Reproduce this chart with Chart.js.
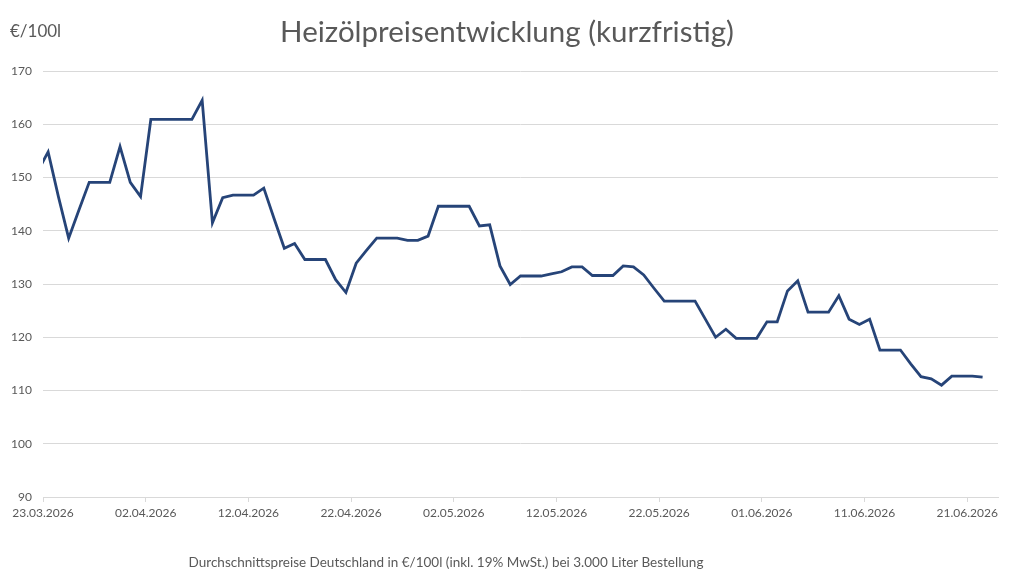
<!DOCTYPE html>
<html>
<head>
<meta charset="utf-8">
<script src="https://cdn.jsdelivr.net/npm/chart.js@4"></script>
<style>
  body { margin: 0; background: #fff; }
  #wrap { position: relative; width: 1012px; height: 580px; font-family: Lato, "Open Sans", sans-serif; color: #595959; }
  #wrap canvas { position: absolute; left: 0; top: 0; }
  .txt { position: absolute; white-space: nowrap; line-height: 1.2; }
  #title { left: 0; width: 1014px; top: 13px; text-align: center; font-size: 29.5px; }
  #unit { left: 10px; top: 21px; font-size: 17px; }
  #foot { left: 0; width: 892px; top: 554px; text-align: center; font-size: 13.5px; }
</style>
</head>
<body>
<div id="wrap">
  <canvas id="chart" width="1012" height="580"></canvas>
  <div class="txt" id="title">Heizölpreisentwicklung (kurzfristig)</div>
  <div class="txt" id="unit">€/100l</div>
  <div class="txt" id="foot">Durchschnittspreise Deutschland in €/100l (inkl. 19% MwSt.) bei 3.000 Liter Bestellung</div>
</div>
<script>
// daily prices, one per day starting at firstDay
const firstDay = '2026-03-22';
const axisStart = '2026-03-23';
const axisDays = 93;
const prices = [
  151.2, 154.8, 146.4, 138.6, 143.9, 149.1, 149.1, 149.1, 155.8, 149.1,
  146.4, 160.9, 160.9, 160.9, 160.9, 160.9, 164.5, 141.5, 146.2, 146.7,
  146.7, 146.7, 148.0, 142.3, 136.7, 137.6, 134.6, 134.6, 134.6, 130.8,
  128.4, 133.9, 136.3, 138.6, 138.6, 138.6, 138.2, 138.2, 139.0, 144.6,
  144.6, 144.6, 144.6, 140.9, 141.1, 133.4, 129.9, 131.5, 131.5, 131.5,
  131.9, 132.3, 133.2, 133.2, 131.6, 131.6, 131.6, 133.4, 133.2, 131.7,
  129.2, 126.8, 126.8, 126.8, 126.8, 123.4, 120.0, 121.5, 119.8, 119.8,
  119.8, 122.9, 122.9, 128.7, 130.6, 124.7, 124.7, 124.7, 127.8, 123.4,
  122.4, 123.4, 117.6, 117.6, 117.6, 115.0, 112.6, 112.2, 111.0, 112.7,
  112.7, 112.7, 112.5
];
const yTicks = [90, 100, 110, 120, 130, 140, 150, 160, 170];

const DAY = 86400000;
const t0 = Date.parse(firstDay);
const a0 = Date.parse(axisStart);

function fmt(ms) {
  const d = new Date(ms);
  const dd = String(d.getUTCDate()).padStart(2, '0');
  const mm = String(d.getUTCMonth() + 1).padStart(2, '0');
  return dd + '.' + mm + '.' + d.getUTCFullYear();
}

// each daily value sits in the middle of its day
const points = prices.map(function (p, i) {
  return { x: (t0 + i * DAY - a0) / DAY + 0.5, y: p };
});

new Chart(document.getElementById('chart'), {
  type: 'line',
  data: {
    datasets: [{
      data: points,
      borderColor: '#264478',
      borderWidth: 2.8,
      pointRadius: 0,
      tension: 0,
      fill: false
    }]
  },
  options: {
    responsive: false,
    animation: false,
    layout: { padding: { top: 71, right: 14, left: 0, bottom: 53 } },
    plugins: { legend: { display: false }, tooltip: { enabled: false }, title: { display: false } },
    scales: {
      x: {
        type: 'linear',
        min: 0,
        max: axisDays,
        afterFit: function (s) { s.height = 30; },
        border: { display: true, color: '#d9d9d9', width: 1 },
        grid: { drawOnChartArea: false, drawTicks: true, tickLength: 5, color: '#d9d9d9' },
        ticks: {
          stepSize: 10,
          includeBounds: false,
          autoSkip: false,
          maxRotation: 0,
          padding: 4,
          color: '#595959',
          font: { family: 'Lato', size: 12 },
          callback: function (v) { return fmt(a0 + v * DAY); }
        }
      },
      y: {
        min: yTicks[0],
        max: yTicks[yTicks.length - 1],
        afterFit: function (s) { s.width = 43; },
        afterBuildTicks: function (s) { s.ticks = yTicks.map(function (v) { return { value: v }; }); },
        border: { display: false },
        grid: { color: '#d9d9d9', drawTicks: false, lineWidth: 1 },
        ticks: {
          padding: 11,
          color: '#595959',
          font: { family: 'Lato', size: 12 }
        }
      }
    }
  }
});
</script>
</body>
</html>
